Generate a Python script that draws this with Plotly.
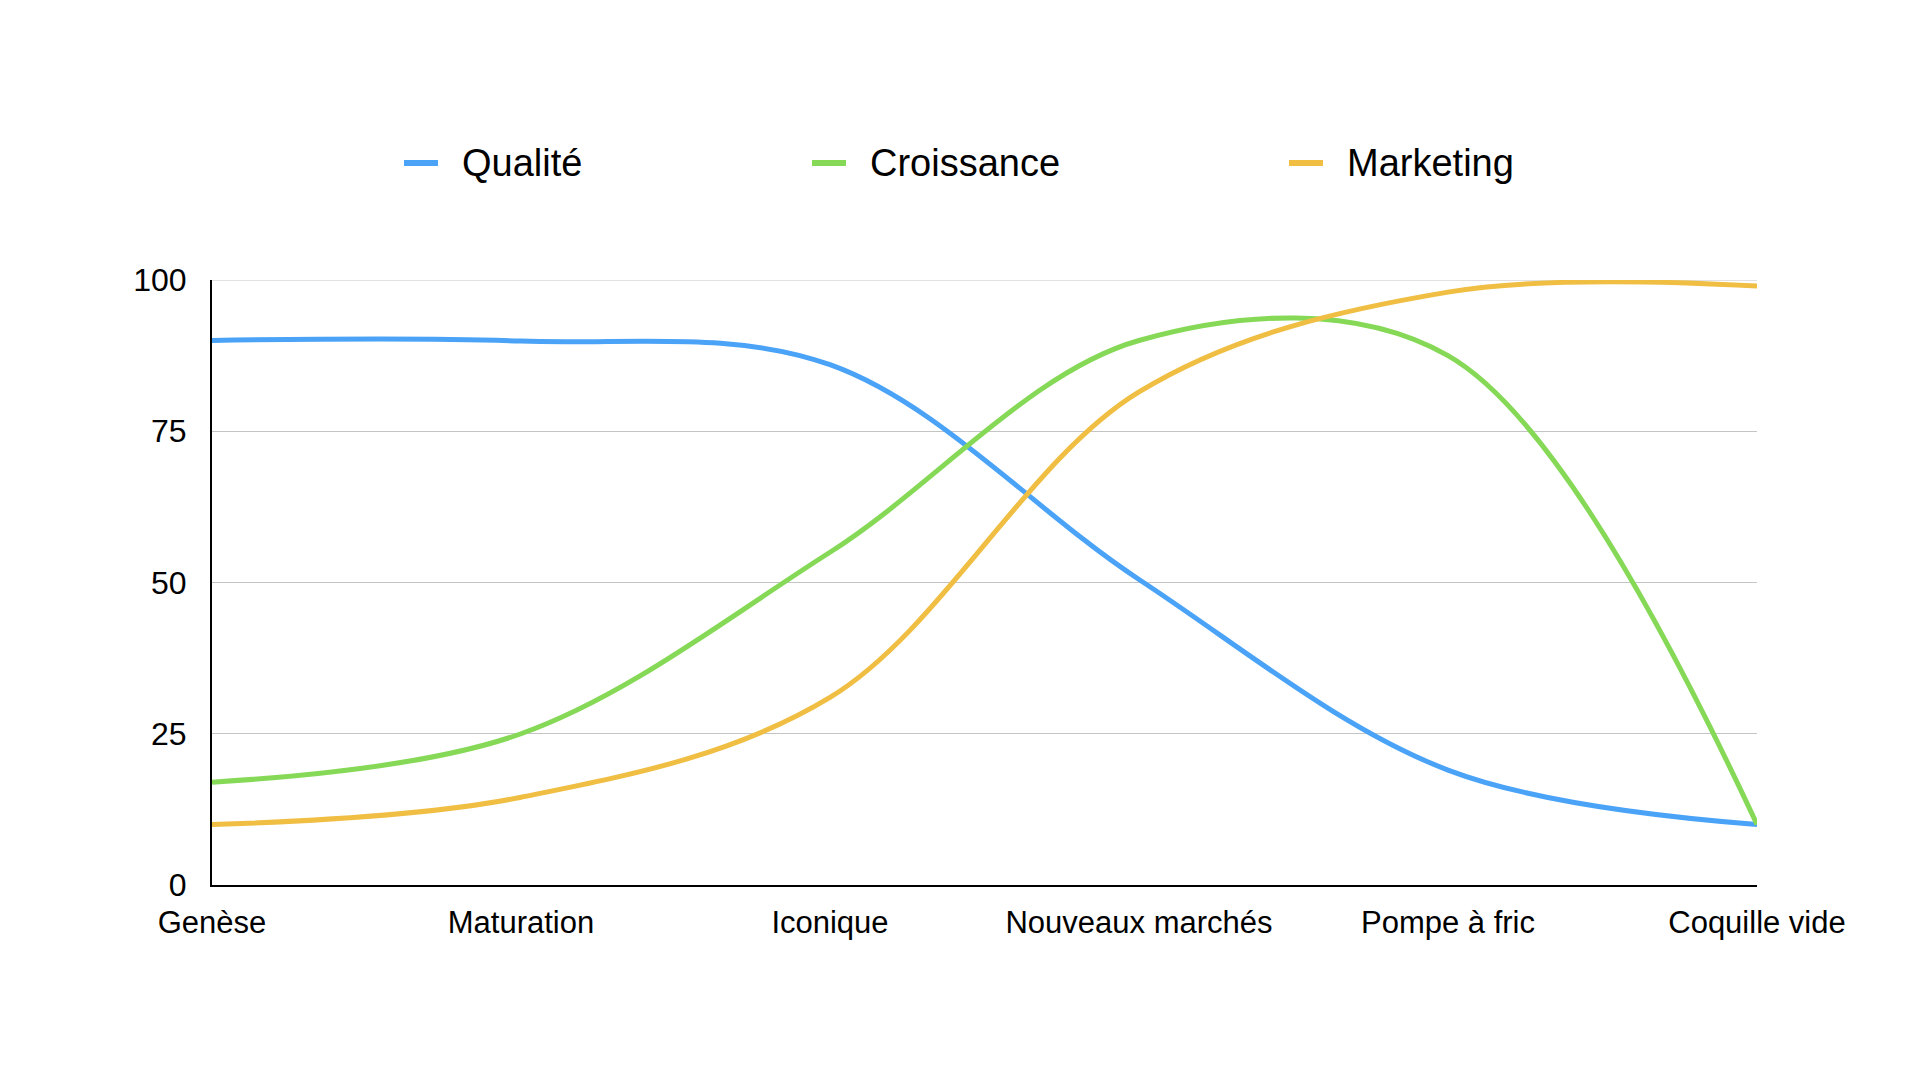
import plotly.graph_objects as go

categories = ["Genèse", "Maturation", "Iconique", "Nouveaux marchés", "Pompe à fric", "Coquille vide"]
qualite = [90, 89.9, 86, 50.5, 19, 10]
croissance = [17, 25, 55, 90, 87.5, 10]
marketing = [10, 14.5, 31, 81.5, 98, 99]
y_ticks = [0, 25, 50, 75, 100]

series = [
    ("Qualité", qualite, "#4aa3f7"),
    ("Croissance", croissance, "#86d957"),
    ("Marketing", marketing, "#efbe42"),
]

FONT = "Liberation Sans, Arial, Helvetica, sans-serif"

fig = go.Figure()
for name, vals, color in series:
    fig.add_trace(go.Scatter(
        x=categories, y=vals, name=name, mode="lines",
        line=dict(color=color, width=5, shape="spline", smoothing=1.0),
        cliponaxis=False, showlegend=False,
    ))

# top gridline at 100 (plotly drops the gridline at the range edge)
fig.add_shape(type="line", xref="paper", yref="y", x0=0, x1=1, y0=100, y1=100,
              line=dict(color="#c4c4c4", width=1), layer="below")

# manual legend (swatch + label) to match the reference spacing
legend_x = [404, 812, 1289]
W, H = 1920, 1080
for (name, vals, color), lx in zip(series, legend_x):
    fig.add_shape(type="line", xref="paper", yref="paper",
                  x0=(lx - 212) / (1757 - 212), x1=(lx + 34 - 212) / (1757 - 212),
                  y0=(885 - 163) / (885 - 280), y1=(885 - 163) / (885 - 280),
                  line=dict(color=color, width=6))
    fig.add_annotation(xref="paper", yref="paper",
                       x=(lx + 56 - 212) / (1757 - 212), y=(885 - 163) / (885 - 280),
                       xanchor="left", yanchor="middle", showarrow=False,
                       text=name, font=dict(family=FONT, size=38, color="#000000"))

fig.update_layout(
    width=W, height=H,
    margin=dict(l=212, r=163, t=280, b=195),
    paper_bgcolor="white", plot_bgcolor="white",
    font=dict(family=FONT, color="#000000"),
)
fig.update_xaxes(
    type="category", range=[0, 5],
    showgrid=False, showline=True, linecolor="#000000", linewidth=2,
    ticks="", tickfont=dict(size=31, family=FONT, color="#000000"),
    ticklabelstandoff=9, zeroline=False,
)
fig.update_yaxes(
    range=[0, 100], tickvals=y_ticks, ticktext=[str(v) for v in y_ticks],
    showgrid=True, gridcolor="#c4c4c4", gridwidth=1,
    showline=True, linecolor="#000000", linewidth=2,
    ticks="", tickfont=dict(size=32, family=FONT, color="#000000"),
    ticklabelstandoff=17, zeroline=False,
)

fig.write_html("out.html")
